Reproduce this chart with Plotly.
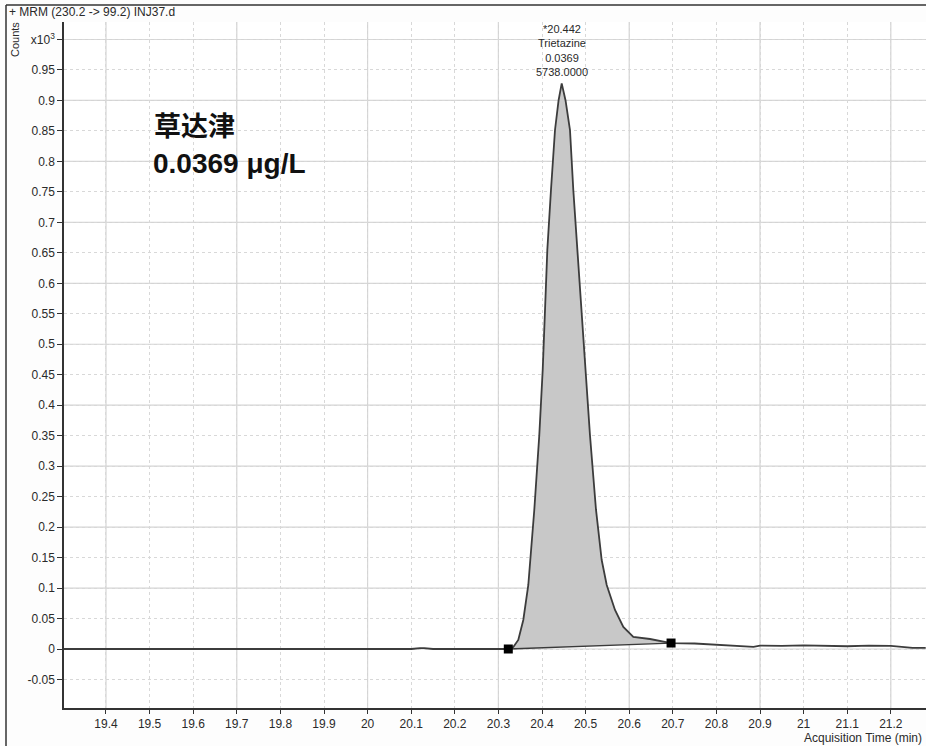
import plotly.graph_objects as go

# ---------------- data ----------------
rt = [19.30, 19.60, 19.90, 20.10, 20.12, 20.13, 20.15, 20.30, 20.3227, 20.3342, 20.3456,
      20.3571, 20.3686, 20.3823, 20.3938, 20.4016, 20.4069, 20.4122, 20.4206, 20.4298,
      20.438, 20.4452, 20.454, 20.4642, 20.4718, 20.481, 20.4894, 20.4986, 20.51, 20.5239,
      20.5369, 20.5484, 20.5674, 20.5865, 20.6094, 20.6477, 20.696, 20.75, 20.80, 20.85,
      20.875, 20.885, 20.90, 20.95, 21.00, 21.05, 21.10, 21.15, 21.20, 21.25, 21.28]
counts = [0, 0, 0, 0, 0.0015, 0.0015, 0, 0, 0, 0.0033, 0.0148,
          0.0476, 0.105, 0.2281, 0.3511, 0.4578, 0.5562, 0.6546, 0.7531, 0.8515,
          0.90, 0.928, 0.90, 0.8515, 0.7531, 0.6546, 0.5562, 0.4578, 0.3511, 0.2281,
          0.146, 0.105, 0.064, 0.0361, 0.0197, 0.0164, 0.0098, 0.009, 0.007, 0.006,
          0.0045, 0.0035, 0.0055, 0.005, 0.006, 0.005, 0.0045, 0.0055, 0.005, 0.002, 0.002]

integ_rt = [20.3227, 20.696]
integ_counts = [0.0, 0.0098]

apex_rt = 20.4452
peak_label = ["*20.442", "Trietazine", "0.0369", "5738.0000"]

x_ticks = [19.4, 19.5, 19.6, 19.7, 19.8, 19.9, 20.0, 20.1, 20.2, 20.3, 20.4, 20.5,
           20.6, 20.7, 20.8, 20.9, 21.0, 21.1, 21.2]
x_ticktext = ["19.4", "19.5", "19.6", "19.7", "19.8", "19.9", "20", "20.1", "20.2", "20.3",
              "20.4", "20.5", "20.6", "20.7", "20.8", "20.9", "21", "21.1", "21.2"]
x_major = [19.4, 19.7, 20.0, 20.3, 20.6, 20.9, 21.2]

y_ticks = [-0.05, 0, 0.05, 0.1, 0.15, 0.2, 0.25, 0.3, 0.35, 0.4, 0.45, 0.5, 0.55, 0.6,
           0.65, 0.7, 0.75, 0.8, 0.85, 0.9, 0.95, 1.0]
y_ticktext = ["-0.05", "0", "0.05", "0.1", "0.15", "0.2", "0.25", "0.3", "0.35", "0.4",
              "0.45", "0.5", "0.55", "0.6", "0.65", "0.7", "0.75", "0.8", "0.85", "0.9",
              "0.95", "x10<sup>3</sup>"]
y_major = [0, 0.1, 0.2, 0.3, 0.4, 0.5, 0.6, 0.7, 0.8, 0.9, 1.0]

title_text = "+ MRM (230.2 -> 99.2) INJ37.d"
compound_cn = "草达津"
conc_text = "0.0369 μg/L"

# ---------------- layout geometry ----------------
W, H = 926, 746
L, R, T, B = 64, 0, 22, 38
pw, ph = W - L - R, H - T - B


def px(xp):
    return (xp - L) / pw


def py(yp):
    return (H - B - yp) / ph


FONT = "Liberation Sans, Arial, sans-serif"
INK = "#2a2a2a"

fig = go.Figure()

# filled integrated area
i0 = rt.index(integ_rt[0])
i1 = rt.index(integ_rt[1])
fx = rt[i0:i1 + 1] + [integ_rt[0]]
fy = counts[i0:i1 + 1] + [integ_counts[0]]
fig.add_trace(go.Scatter(x=fx, y=fy, mode="lines", fill="toself", fillcolor="#c8c8c8",
                         line=dict(width=0), hoverinfo="skip", showlegend=False))
# integration baseline
fig.add_trace(go.Scatter(x=integ_rt, y=integ_counts, mode="lines",
                         line=dict(color="#3a3a3a", width=1.3), showlegend=False))
# chromatogram
fig.add_trace(go.Scatter(x=rt, y=counts, mode="lines",
                         line=dict(color="#3c3c3c", width=1.8), showlegend=False))
# integration markers
fig.add_trace(go.Scatter(x=integ_rt, y=integ_counts, mode="markers",
                         marker=dict(symbol="square", size=9, color="black"),
                         showlegend=False))

shapes = []
for xv in x_major:
    shapes.append(dict(type="line", xref="x", yref="paper", x0=xv, x1=xv, y0=0, y1=1,
                       line=dict(color="#d4d4d4", width=1.2), layer="below"))
for yv in y_major:
    shapes.append(dict(type="line", xref="paper", yref="y", x0=0, x1=1, y0=yv, y1=yv,
                       line=dict(color="#d4d4d4", width=1.2), layer="below"))
# outer frame
shapes.append(dict(type="line", xref="paper", yref="paper", x0=px(6), x1=px(930),
                   y0=py(5), y1=py(5), line=dict(color="#333", width=1.5)))
shapes.append(dict(type="line", xref="paper", yref="paper", x0=px(6), x1=px(6),
                   y0=py(5), y1=py(750), line=dict(color="#333", width=1.5)))

annotations = [
    dict(text=title_text, xref="paper", yref="paper", x=px(7), y=py(12),
         xanchor="left", yanchor="middle", showarrow=False,
         font=dict(family=FONT, size=12, color=INK)),
    dict(text="Counts", xref="paper", yref="paper", x=px(15), y=py(40),
         xanchor="center", yanchor="middle", textangle=-90, showarrow=False,
         font=dict(family=FONT, size=11, color=INK)),
    dict(text="<br>".join(peak_label), xref="x", yref="paper", x=apex_rt, y=py(80),
         xanchor="center", yanchor="bottom", showarrow=False, align="center",
         font=dict(family=FONT, size=11, color=INK)),
    dict(text="<b>" + compound_cn + "</b>", xref="paper", yref="paper", x=px(152), y=py(124),
         xanchor="left", yanchor="middle", showarrow=False,
         font=dict(family="Noto Sans CJK SC", size=27, color="#111")),
    dict(text="<b>" + conc_text + "</b>", xref="paper", yref="paper", x=px(151), y=py(163),
         xanchor="left", yanchor="middle", showarrow=False,
         font=dict(family="Liberation Sans, Arial, sans-serif", size=28, color="#111")),
    dict(text="Acquisition Time (min)", xref="paper", yref="paper", x=px(924), y=py(738),
         xanchor="right", yanchor="middle", showarrow=False,
         font=dict(family=FONT, size=12, color=INK)),
]

fig.update_layout(
    width=W, height=H,
    margin=dict(l=L, r=R, t=T, b=B, pad=0),
    paper_bgcolor="#fdfdfd", plot_bgcolor="white",
    shapes=shapes, annotations=annotations, showlegend=False,
    xaxis=dict(range=[19.3037, 21.2807], tickmode="array", tickvals=x_ticks,
               ticktext=x_ticktext, showgrid=True, gridcolor="#d8d8d8", griddash="dot",
               gridwidth=1, zeroline=False, showline=True, linecolor="#333", linewidth=1.5,
               ticks="outside", ticklen=4, tickcolor="#333",
               tickfont=dict(family=FONT, size=12, color=INK)),
    yaxis=dict(range=[-0.0968, 1.0287], tickmode="array", tickvals=y_ticks,
               ticktext=y_ticktext, showgrid=True, gridcolor="#d8d8d8", griddash="dot",
               gridwidth=1, zeroline=False, showline=True, linecolor="#333", linewidth=1.5,
               ticks="outside", ticklen=5, tickcolor="#333",
               tickfont=dict(family=FONT, size=12, color=INK)),
)

fig.write_html("out.html")
